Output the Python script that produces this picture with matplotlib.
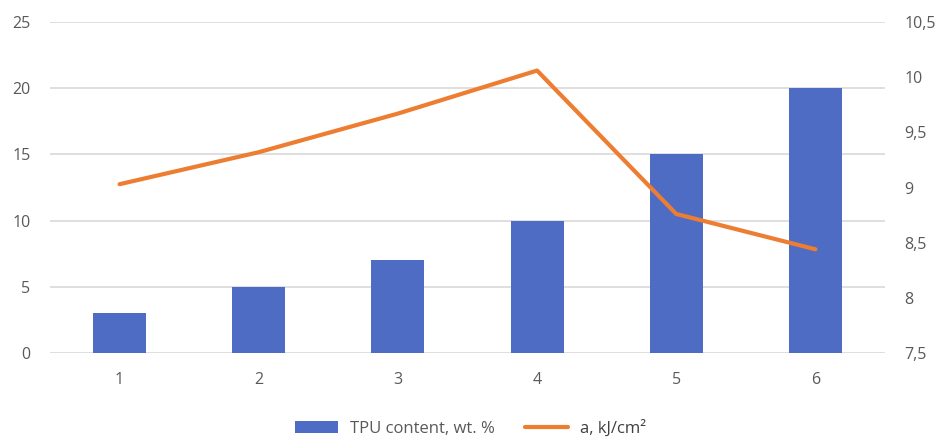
import matplotlib
matplotlib.use("Agg")
import matplotlib.pyplot as plt
import numpy as np

plt.rcParams['font.family'] = ['Open Sans', 'DejaVu Sans']

samples = ['1', '2', '3', '4', '5', '6']
tpu = [3, 5, 7, 10, 15, 20]
impact = [9.03, 9.32, 9.67, 10.06, 8.76, 8.44]

bar_c = '#4e6cc4'
line_c = '#ed7d31'
txt_c = '#595959'

fig = plt.figure(figsize=(9.41, 4.37), dpi=100)
ax = fig.add_axes([50/941, 1 - 353/437, (885 - 50)/941, (353 - 22)/437])
x = np.arange(len(samples))

b = ax.bar(x, tpu, width=0.38, color=bar_c, zorder=2)
ax.set_ylim(0, 25)
ax.set_yticks(np.arange(0, 26, 5))
ax.set_xlim(-0.5, len(samples) - 0.5)
ax.set_xticks(x)
ax.set_xticklabels(samples)
ax.grid(axis='y', color='#d9d9d9', lw=1.2, zorder=0)
for s in ax.spines.values():
    s.set_visible(False)
ax.tick_params(length=0, colors=txt_c, labelsize=11.5)
ax.tick_params(axis='x', pad=14)
ax.tick_params(axis='y', pad=14)

ax2 = ax.twinx()
l, = ax2.plot(x, impact, color=line_c, lw=3, solid_capstyle='round', zorder=3)
ax2.set_ylim(7.5, 10.5)
rt = np.arange(7.5, 10.51, 0.5)
ax2.set_yticks(rt)
ax2.set_yticklabels([f'{v:g}'.replace('.', ',') for v in rt])
for s in ax2.spines.values():
    s.set_visible(False)
ax2.tick_params(length=0, colors=txt_c, labelsize=11.5, pad=14)

leg = fig.legend([b, l], ['TPU content, wt. %', 'a, kJ/cm²'], loc='center',
                 bbox_to_anchor=(0.5, 1 - 428/437), ncol=2, frameon=False,
                 fontsize=12, labelcolor=txt_c, handlelength=2.6,
                 columnspacing=1.8, handletextpad=0.7)
leg.get_texts()[1].set_color('#404040')

fig.savefig('out.png', dpi=100)
